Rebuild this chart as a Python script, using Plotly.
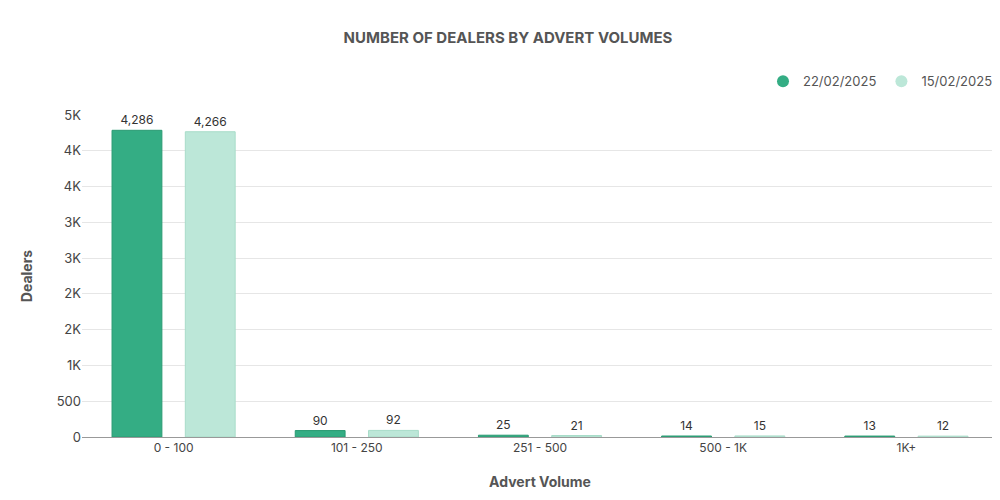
import plotly.graph_objects as go

categories = ['0 - 100', '101 - 250', '251 - 500', '500 - 1K', '1K+']
week_22 = [4286, 90, 25, 14, 13]
week_15 = [4266, 92, 21, 15, 12]
tick_vals = [0, 500, 1000, 1500, 2000, 2500, 3000, 3500, 4000, 4500]
tick_text = ['0', '500', '1K', '2K', '2K', '3K', '3K', '4K', '4K', '5K']

font = 'Inter'
grey = '#555555'
dark = '#34ad84'
light = '#bce7d8'

fig = go.Figure()
fig.add_trace(go.Bar(
    x=categories, y=week_22, name='22/02/2025', showlegend=False,
    marker=dict(color=dark, line=dict(color='#2a9a72', width=1)),
    text=[f'{v:,}' for v in week_22], textposition='outside',
    textfont=dict(size=12, color='#333'), cliponaxis=False,
))
fig.add_trace(go.Bar(
    x=categories, y=week_15, name='15/02/2025', showlegend=False,
    marker=dict(color=light, line=dict(color='#a8dcc9', width=1)),
    text=[f'{v:,}' for v in week_15], textposition='outside',
    textfont=dict(size=12, color='#333'), cliponaxis=False,
))
# legend entries with round markers
for name, col in [('22/02/2025', dark), ('15/02/2025', light)]:
    fig.add_trace(go.Scatter(x=[None], y=[None], mode='markers', name=name,
                             marker=dict(symbol='circle', size=12, color=col)))

fig.update_layout(
    width=1000, height=500,
    plot_bgcolor='white', paper_bgcolor='white',
    font=dict(family=font, color=grey, size=13),
    title=dict(text='<b>NUMBER OF DEALERS BY ADVERT VOLUMES</b>', x=0.5, y=0.94,
               xanchor='center', yanchor='middle', font=dict(size=15, color=grey)),
    margin=dict(l=74, r=10, t=107, b=71),
    bargap=0.2, bargroupgap=0.32,
    legend=dict(orientation='h', x=1, xanchor='right', y=1.105, yanchor='middle',
                font=dict(size=13, color=grey)),
)
fig.update_xaxes(title=dict(text='<b>Advert Volume</b>', font=dict(size=14, color=grey), standoff=22),
                 showline=True, linecolor='#999', ticks='', tickfont=dict(size=12, color='#444'))
fig.update_yaxes(title=dict(text='<b>Dealers</b>', font=dict(size=14, color=grey), standoff=20),
                 range=[0, 4500], tickvals=tick_vals, ticktext=tick_text,
                 gridcolor='#e6e6e6', zeroline=False, tickfont=dict(size=13, color='#444'))

fig.write_html('out.html')
